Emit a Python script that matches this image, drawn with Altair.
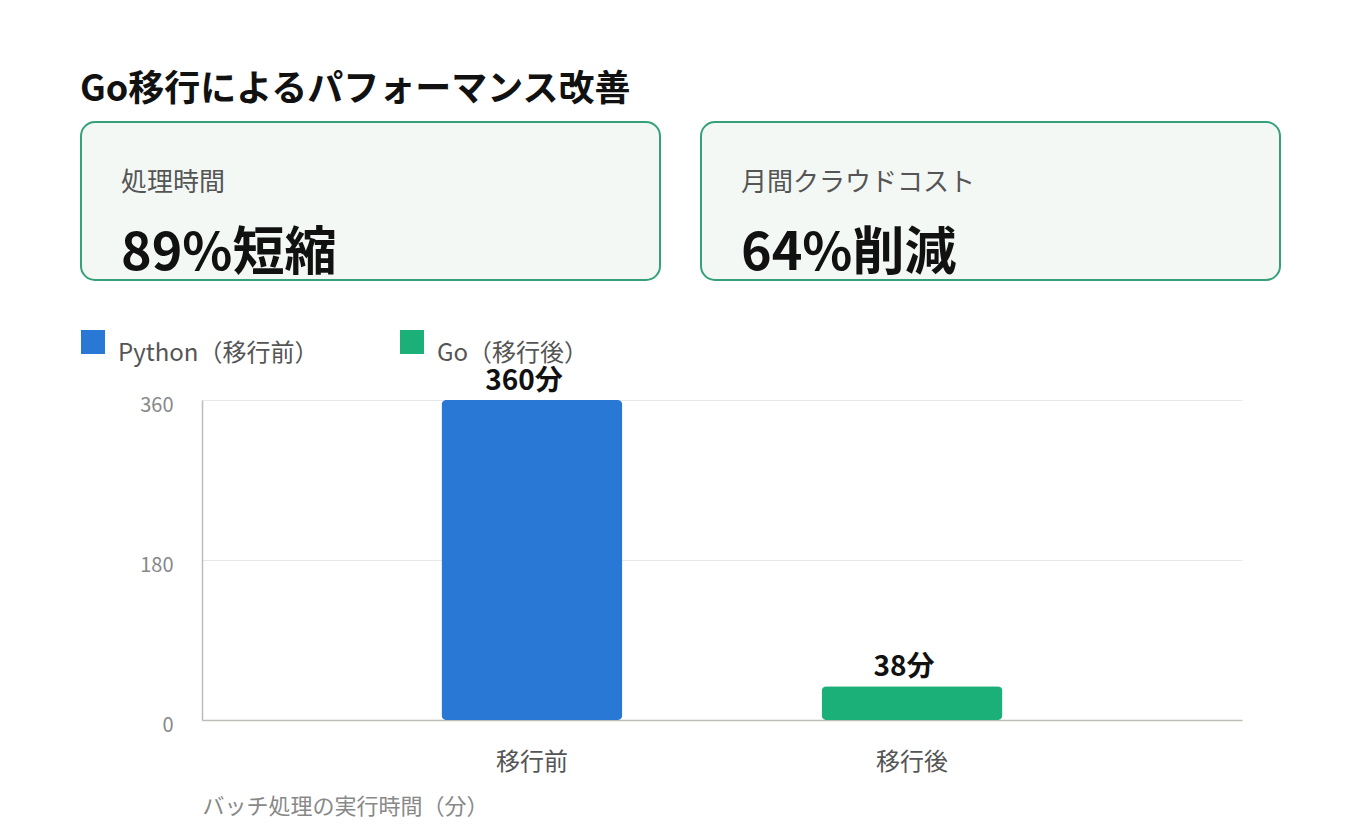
"""
Go migration performance: KPI cards plus a before/after bar chart
"""
import pandas as pd
import altair as alt

FONT = "Noto Sans CJK JP"

# bar chart data
phases = ["移行前", "移行後"]
series = ["Python（移行前）", "Go（移行後）"]
minutes = [360, 38]
bar_labels = ["360分", "38分"]
colors = ["#2a78d6", "#1bb077"]
y_ticks = [0, 180, 360]

# KPI cards
card_names = ["処理時間", "月間クラウドコスト"]
card_values = ["89%短縮", "64%削減"]

bars_df = pd.DataFrame({"phase": phases, "series": series, "minutes": minutes, "label": bar_labels})
cards_df = pd.DataFrame({"card": card_names, "value": card_values})

# the y axis sits inside the view so the plot lines up with the cards above it
AXIS_GAP = 121
PLOT_W = 1040


def create_cards():
    name = alt.Chart().mark_text(
        font=FONT, fontSize=26, color="#555", align="left", baseline="middle"
    ).encode(x=alt.value(40), y=alt.value(61), text="card:N")

    value = alt.Chart().mark_text(
        font=FONT, fontSize=52, fontWeight="bold", color="#111", align="left", baseline="alphabetic"
    ).encode(x=alt.value(40), y=alt.value(148), text="value:N")

    return alt.layer(name, value, data=cards_df).properties(
        width=579,
        height=158,
        view=alt.ViewBackground(fill="#f3f8f5", stroke="#36a07b", strokeWidth=2, cornerRadius=14),
    ).facet(
        column=alt.Column("card:N", sort=card_names, header=None),
        spacing=39,
    )


def create_bars():
    base = alt.Chart(bars_df).encode(
        x=alt.X(
            "phase:N",
            sort=phases,
            scale=alt.Scale(range=[AXIS_GAP, AXIS_GAP + PLOT_W], paddingInner=0.524, paddingOuter=0.63),
            axis=alt.Axis(
                title="バッチ処理の実行時間（分）",
                labelAngle=0, ticks=False, labelPadding=30,
                labelFontSize=24, labelColor="#555",
                titleAnchor="start", titleAlign="left", titleFontSize=22,
                titleFontWeight="normal", titleColor="#888", titlePadding=22,
                domainColor="#bdbdb5", domainWidth=1.5,
            ),
        ),
        y=alt.Y(
            "minutes:Q",
            scale=alt.Scale(domain=[0, 360], nice=False),
            axis=alt.Axis(
                title="", values=y_ticks, ticks=False, labelPadding=29,
                labelFontSize=20, labelColor="#888", labelOffset=5,
                gridColor="#e8e8e8", domainColor="#bdbdb5", domainWidth=1.5,
                offset=-AXIS_GAP, minExtent=0,
            ),
        ),
    )

    bars = base.mark_bar(cornerRadius=5).encode(
        color=alt.Color(
            "series:N",
            sort=series,
            scale=alt.Scale(domain=series, range=colors),
            legend=alt.Legend(
                title="", orient="none", legendX=0, legendY=-70, padding=0,
                direction="horizontal", symbolType="square", symbolSize=576,
                symbolStrokeWidth=0, labelFontSize=24, labelColor="#555", labelLimit=400,
                labelOffset=13, labelBaseline="top", columnPadding=81,
            ),
        )
    )

    # value labels above each bar
    labels = base.mark_text(dy=-18, dx=-8, font=FONT, fontSize=28, fontWeight="bold", color="#111").encode(
        text="label:N"
    )

    return alt.layer(bars, labels).properties(
        width=AXIS_GAP + PLOT_W,
        height=320,
        view=alt.ViewBackground(stroke="transparent"),
    )


chart = alt.vconcat(create_cards(), create_bars(), spacing=48).resolve_legend(
    color="independent"
).properties(
    title=alt.TitleParams(
        text="Go移行によるパフォーマンス改善",
        anchor="start", fontSize=36, fontWeight="bold", font=FONT, color="#111", offset=12,
    ),
    padding={"left": 72, "top": 64, "right": 10, "bottom": 10},
).configure(
    font=FONT
).configure_axis(
    labelFont=FONT, titleFont=FONT
).configure_legend(
    labelFont=FONT
)

chart.save("out.html", embed_options={"renderer": "svg", "actions": False})
